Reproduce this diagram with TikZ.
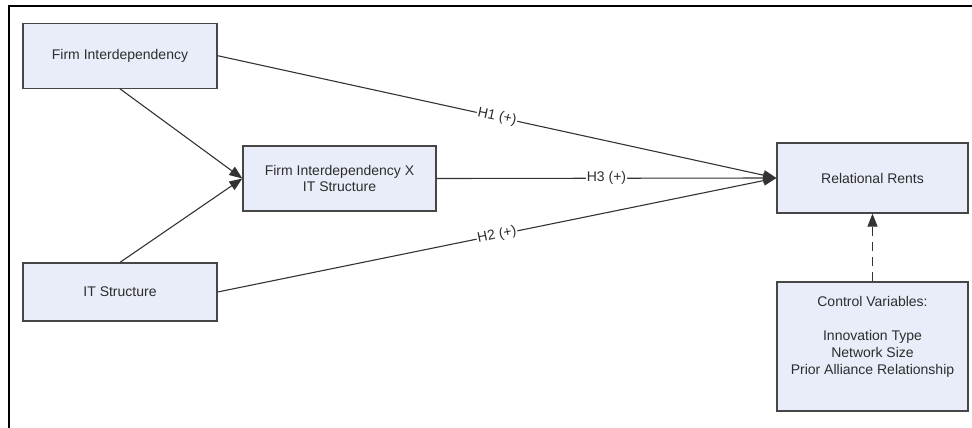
\documentclass[tikz,border=0pt]{standalone}
\usepackage{fontspec}
\setmainfont{Liberation Sans}
\usetikzlibrary{arrows.meta}
\definecolor{boxfill}{RGB}{232,237,249}
\definecolor{boxline}{RGB}{70,70,70}
\definecolor{txt}{RGB}{45,45,45}
\begin{document}
\begin{tikzpicture}[x=1pt,y=-1pt,
  box/.style={draw=boxline,line width=1.3pt,fill=boxfill,inner sep=0pt,align=center,text=txt,font=\fontsize{14}{16}\selectfont},
  conn/.style={draw=black!80,line width=1.1pt},
  arr/.style={conn,-{Triangle[length=13pt,width=10pt]}},
  hlab/.style={fill=white,inner sep=1pt,text=txt,font=\fontsize{14}{16}\selectfont,sloped}]
\useasboundingbox (0,0) rectangle (972,428);
\draw[line width=2.3pt] (9,440) -- (9,6.2) -- (980,6.2);

\node[box,minimum width=194pt,minimum height=65pt] (fi) at (120,55.7) {Firm Interdependency};
\node[box,minimum width=193pt,minimum height=65pt] (fx) at (339.5,178.5) {Firm Interdependency X\\IT Structure};
\node[box,minimum width=194pt,minimum height=58pt] (it) at (120,292) {IT Structure};
\node[box,minimum width=191pt,minimum height=70pt] (rr) at (872.5,178) {Relational Rents};
\node[box,minimum width=191pt,minimum height=129pt] (ctrl) at (872.5,346.5) {};
\node[align=center,text=txt,font=\fontsize{14}{17}\selectfont] (ctrltext) at ([yshift=9.5pt]ctrl.center) {Control Variables:\\[17pt]Innovation Type\\Network Size\\Prior Alliance Relationship};

\draw[arr] (fi.east) -- node[hlab]{H1 (+)} (rr.west);
\draw[arr] (fx.east) -- node[hlab]{H3 (+)} (rr.west);
\draw[arr] (it.east) -- node[hlab]{H2 (+)} (rr.west);
\draw[arr] (fi.south) -- (fx.west);
\draw[arr] (it.north) -- (fx.west);
\draw[arr,dash pattern=on 9pt off 6pt] (ctrl.north) -- (rr.south);
\end{tikzpicture}
\end{document}
